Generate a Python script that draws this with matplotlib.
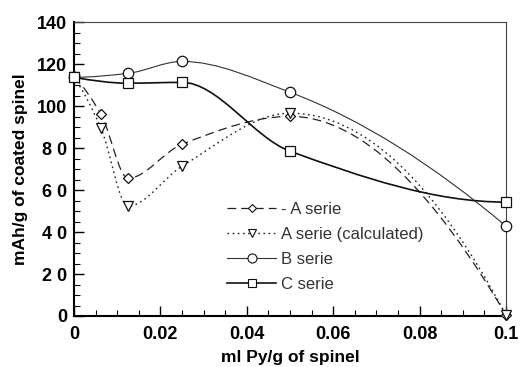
import numpy as np
import matplotlib
matplotlib.use("Agg")
import matplotlib.pyplot as plt
from matplotlib.path import Path
from matplotlib.patches import PathPatch
from matplotlib.lines import Line2D

# data
x_a = [0, 0.00625, 0.0125, 0.025, 0.05, 0.1]
y_a = [113.8, 96.2, 65.7, 81.9, 95.2, 0.5]
x_ac = [0, 0.00625, 0.0125, 0.025, 0.05, 0.1]
y_ac = [113.8, 89.5, 52.4, 71.4, 96.7, 0.5]
x_b = [0, 0.0125, 0.025, 0.05, 0.1]
y_b = [113.8, 115.7, 121.4, 106.7, 42.9]
x_c = [0, 0.0125, 0.025, 0.05, 0.1]
y_c = [113.8, 111.0, 111.4, 78.6, 54.3]

labels = ["- A serie", "A serie (calculated)", "B serie", "C serie"]
xticks = [0, 0.02, 0.04, 0.06, 0.08, 0.1]
xticklabels = ["0", "0.02", "0.04", "0.06", "0.08", "0.1"]
yticks = [0, 20, 40, 60, 80, 100, 120, 140]
yticklabels = ["0", "2 0", "4 0", "6 0", "8 0", "100", "120", "140"]


def smooth_path(x, y):
    # shape preserving cubic (pchip style) through the points, as bezier segments
    x = np.asarray(x, float)
    y = np.asarray(y, float)
    n = len(x)
    h = np.diff(x)
    d = np.diff(y) / h
    m = np.zeros(n)
    for k in range(1, n - 1):
        if d[k - 1] * d[k] > 0:
            w1 = 2 * h[k] + h[k - 1]
            w2 = h[k] + 2 * h[k - 1]
            m[k] = (w1 + w2) / (w1 / d[k - 1] + w2 / d[k])

    def end(h0, h1, d0, d1):
        s = ((2 * h0 + h1) * d0 - h0 * d1) / (h0 + h1)
        if np.sign(s) != np.sign(d0):
            return 0.0
        if np.sign(d0) != np.sign(d1) and abs(s) > 3 * abs(d0):
            return 3 * d0
        return s

    m[0] = end(h[0], h[1], d[0], d[1])
    m[-1] = end(h[-1], h[-2], d[-1], d[-2])
    verts = [(x[0], y[0])]
    codes = [Path.MOVETO]
    for i in range(n - 1):
        verts += [(x[i] + h[i] / 3, y[i] + m[i] * h[i] / 3),
                  (x[i + 1] - h[i] / 3, y[i + 1] - m[i + 1] * h[i] / 3),
                  (x[i + 1], y[i + 1])]
        codes += [Path.CURVE4] * 3
    return Path(verts, codes)


plt.rcParams['font.family'] = ['Liberation Sans', 'DejaVu Sans']

fig = plt.figure(figsize=(5.21, 3.67), dpi=100)
ax = fig.add_axes([0.142, 0.139, 0.829, 0.8])

series = [
    (x_a, y_a, dict(ls=(0, (7, 4)), lw=0.9, color="#222222"), "D", 5.5),
    (x_ac, y_ac, dict(ls=(0, (1.2, 2.5)), lw=1.0, color="#222222"), "v", 6.5),
    (x_b, y_b, dict(ls="-", lw=0.8, color="#333333"), "o", 7.5),
    (x_c, y_c, dict(ls="-", lw=1.2, color="#111111"), "s", 7),
]

handles = []
for (xs, ys, st, mk, ms), lab in zip(series, labels):
    patch = PathPatch(smooth_path(xs, ys), facecolor="none", edgecolor=st["color"],
                      linestyle=st["ls"], linewidth=st["lw"], zorder=2)
    ax.add_patch(patch)
    ax.plot(xs, ys, ls="none", marker=mk, ms=ms, mfc="white", mec="#111111",
            mew=0.9, zorder=3, clip_on=False)
    handles.append(Line2D([], [], color=st["color"], ls=st["ls"], lw=st["lw"],
                          marker=mk, ms=ms - 1, mfc="white", mec="#111111", mew=0.8))

ax.set_xlim(0, 0.1)
ax.set_ylim(0, 140)
ax.set_xticks(xticks)
ax.set_xticklabels(xticklabels, fontsize=13, fontweight="bold")
ax.set_yticks(yticks)
ax.set_yticklabels(yticklabels, fontsize=13, fontweight="bold")
ax.set_xticks(np.arange(0, 0.1001, 0.005), minor=True)
ax.set_yticks(np.arange(0, 140.1, 5), minor=True)
ax.tick_params(direction="in", length=7, width=1)
ax.tick_params(axis="x", pad=7)
ax.tick_params(axis="y", pad=5)
ax.tick_params(which="minor", direction="in", length=4, width=0.8)
ax.spines["left"].set_linewidth(1.5)
ax.spines["bottom"].set_linewidth(1.5)
ax.spines["top"].set_linewidth(0.8)
ax.spines["right"].set_linewidth(0.8)
ax.spines["top"].set_color("#444444")
ax.spines["right"].set_color("#444444")

ax.set_xlabel("ml Py/g of spinel", fontsize=12.5, fontweight="bold", labelpad=5)
ax.set_ylabel("mAh/g of coated spinel", fontsize=12.5, fontweight="bold", labelpad=6)

ax.legend(handles, labels, loc="upper left", bbox_to_anchor=(0.34, 0.412),
          frameon=False, fontsize=12, handlelength=2.9, handletextpad=0.3,
          labelspacing=0.6, labelcolor="#333333", borderaxespad=0)

plt.savefig("out.png", dpi=100)
